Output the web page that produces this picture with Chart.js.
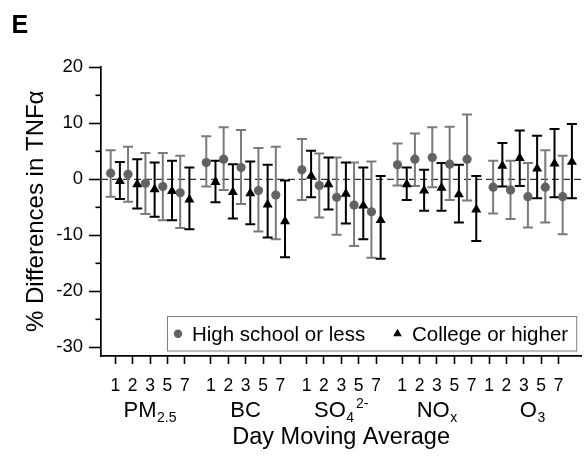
<!DOCTYPE html>
<html>
<head>
<meta charset="utf-8">
<script src="https://cdn.jsdelivr.net/npm/chart.js@4.4.1/dist/chart.umd.min.js"></script>
<style>
  html, body { margin: 0; padding: 0; background: #ffffff; }
  #wrap { width: 587px; height: 459px; }
</style>
</head>
<body>
<div id="wrap"><canvas id="chart" width="587" height="459"></canvas></div>
<script>
// ---- data -------------------------------------------------------------
const lags = ['1', '2', '3', '5', '7'];
const pollutants = ['PM2.5', 'BC', 'SO4', 'NOx', 'O3'];
// label pieces per pollutant: [main text, subscript, superscript]
const pollutantParts = [['PM', '2.5', ''], ['BC', '', ''], ['SO', '4', '2-'], ['NO', 'x', ''], ['O', '3', '']];
const seriesNames = ['High school or less', 'College or higher'];

// % difference in TNFα, 5 lags per pollutant (PM2.5, BC, SO4, NOx, O3)
const hsEst  = [ 1.1,  0.9, -0.7, -1.3, -2.4,   3.0,  3.6,  2.1, -2.0, -2.8,   1.7, -1.1, -3.2, -4.6,  -5.8,   2.6,  3.6,  3.9,  2.7,  3.6,  -1.4, -1.9, -3.1, -1.4, -3.1];
const hsLow  = [-3.1, -4.0, -6.2, -7.3, -8.7,  -1.3, -1.9, -4.4, -9.3, -10.7, -3.7, -6.8, -9.9, -11.9, -14.0, -1.1, -1.2, -1.4, -3.7, -3.8,  -6.1, -7.1, -8.6, -7.7, -9.8];
const hsHigh = [ 5.2,  5.8,  4.7,  4.7,  4.2,   7.7,  9.3,  8.8,  5.6,  5.8,   7.2,  4.6,  3.9,  3.0,   3.2,   6.4,  8.2,  9.3,  9.4, 11.6,   3.3,  3.3,  2.9,  5.2,  4.2];

const coEst  = [-0.3, -0.9, -1.8, -2.1, -3.6,  -0.5, -2.3, -2.5, -4.5,  -7.5,  0.6, -0.9, -2.6, -4.7,  -7.3,  -0.9, -2.0, -1.5, -2.7, -5.4,   2.4,  3.8,  1.9,  2.8,  3.1];
const coLow  = [-3.5, -5.2, -6.7, -7.3, -8.9,  -4.1, -7.0, -8.0, -10.4, -13.9, -3.2, -5.4, -7.9, -10.7, -14.2, -3.7, -5.6, -5.6, -7.7, -11.0, -1.3, -1.2, -3.4, -3.2, -3.4];
const coHigh = [ 3.1,  3.6,  3.0,  3.3,  2.1,   3.3,  2.7,  3.2,  2.6,  -0.2,  5.1,  3.9,  3.0,  2.1,   0.6,   2.1,  1.7,  2.9,  2.6,  0.6,   6.5,  8.7,  7.8,  9.0,  9.9];

const yMajorTicks = [-30, -20, -10, 0, 10, 20];
const yMinorTicks = [-25, -15, -5, 5, 15];

// ---- layout -----------------------------------------------------------
const GROUP_STEP = 5.5;      // slots between first lag of consecutive pollutants
const PAIR_OFFSET = 0.265;   // horizontal shift of each education group around its lag slot
const TICK_SHIFT = [0, 0, 0, 0, -0.5]; // lag tick labels of the last block sit a little to the left

const slot = (g, i) => g * GROUP_STEP + i;
function points(values, shift) {
  return values.map((v, k) => ({ x: slot(Math.floor(k / lags.length), k % lags.length) + shift, y: v }));
}
const xTickValues = [];
pollutants.forEach((p, g) => lags.forEach((l, i) => xTickValues.push(slot(g, i) + TICK_SHIFT[g])));

const FONT = 'Liberation Sans, Arial, Helvetica, sans-serif';
Chart.defaults.font.family = FONT;
Chart.defaults.color = '#000';

// error bars, zero reference line, minor ticks, legend box and block labels
const decor = {
  id: 'decor',
  beforeDatasetsDraw(chart) {
    const { ctx, chartArea: a, scales: { x, y } } = chart;
    ctx.save();
    // dashed zero line
    const y0 = y.getPixelForValue(0);
    ctx.strokeStyle = '#333333';
    ctx.lineWidth = 1.4;
    ctx.setLineDash([7, 4]);
    ctx.beginPath(); ctx.moveTo(a.left, y0); ctx.lineTo(a.right, y0); ctx.stroke();
    ctx.setLineDash([]);
    // error bars
    chart.data.datasets.forEach(ds => {
      ctx.strokeStyle = ds.barColor;
      ctx.lineWidth = 2;
      ds.data.forEach((pt, k) => {
        const px = x.getPixelForValue(pt.x);
        const lo = y.getPixelForValue(ds.lows[k]);
        const hi = y.getPixelForValue(ds.highs[k]);
        ctx.beginPath();
        ctx.moveTo(px, lo); ctx.lineTo(px, hi);
        ctx.moveTo(px - 5, lo); ctx.lineTo(px + 5, lo);
        ctx.moveTo(px - 5, hi); ctx.lineTo(px + 5, hi);
        ctx.stroke();
      });
    });
    ctx.restore();
  },
  afterDraw(chart) {
    const { ctx, chartArea: a, scales: { x, y } } = chart;
    ctx.save();
    // minor y ticks
    ctx.strokeStyle = '#000';
    ctx.lineWidth = 1.6;
    yMinorTicks.forEach(v => {
      const py = y.getPixelForValue(v);
      ctx.beginPath(); ctx.moveTo(a.left - 5.5, py); ctx.lineTo(a.left, py); ctx.stroke();
    });

    // legend
    const bx = 167.5, by = a.bottom - 39.5, bw = a.right - 4.5 - bx, bh = 34.5;
    ctx.fillStyle = '#fff';
    ctx.fillRect(bx, by, bw, bh);
    ctx.strokeStyle = '#808080';
    ctx.lineWidth = 1;
    ctx.strokeRect(bx, by, bw, bh);
    const ly = by + bh / 2;
    ctx.font = '20.5px ' + FONT;
    ctx.textBaseline = 'alphabetic';
    ctx.textAlign = 'left';
    const ds = chart.data.datasets;
    ctx.fillStyle = ds[0].backgroundColor;
    ctx.beginPath(); ctx.arc(bx + 10.5, ly, 4.2, 0, Math.PI * 2); ctx.fill();
    ctx.fillStyle = '#000';
    ctx.fillText(ds[0].label, bx + 24.5, ly + 7.6);
    const tx = 397.5, tr = 5;
    ctx.beginPath();
    ctx.moveTo(tx, ly - tr);
    ctx.lineTo(tx + tr * 0.866, ly + tr / 2);
    ctx.lineTo(tx - tr * 0.866, ly + tr / 2);
    ctx.closePath(); ctx.fill();
    ctx.fillText(ds[1].label, tx + 14.5, ly + 7.6);

    // pollutant block labels: subscript, then superscript following it
    const base = 416.8;
    pollutantParts.forEach((parts, g) => {
      const [main, sub, sup] = parts;
      ctx.font = '22px ' + FONT;
      const wm = ctx.measureText(main).width;
      ctx.font = '14px ' + FONT;
      const ws = sub ? ctx.measureText(sub).width + 0.5 : 0;
      const wp = sup ? ctx.measureText(sup).width + 2 : 0;
      const total = wm + ws + wp;
      const cx = x.getPixelForValue(slot(g, 2));
      const sx = cx - total / 2;
      ctx.fillStyle = '#000';
      ctx.textAlign = 'left';
      ctx.font = '22px ' + FONT;
      ctx.fillText(main, sx, base);
      ctx.font = '14px ' + FONT;
      if (sub) ctx.fillText(sub, sx + wm + 0.5, base + 4.8);
      if (sup) ctx.fillText(sup, sx + wm + ws + 2, base - 8.8);
    });

    // panel letter
    ctx.font = 'bold 25px ' + FONT;
    ctx.fillStyle = '#000';
    ctx.fillText('E', 11.5, 32.8);
    ctx.restore();
  }
};

new Chart(document.getElementById('chart'), {
  type: 'scatter',
  data: {
    datasets: [
      {
        label: seriesNames[0],
        data: points(hsEst, -PAIR_OFFSET),
        lows: hsLow, highs: hsHigh, barColor: '#7a7a7a',
        pointStyle: 'circle', pointRadius: 4.6, pointHoverRadius: 4.6,
        backgroundColor: '#626262', borderWidth: 0
      },
      {
        label: seriesNames[1],
        data: points(coEst, PAIR_OFFSET),
        lows: coLow, highs: coHigh, barColor: '#000000',
        pointStyle: 'triangle', pointRadius: 5.8, pointHoverRadius: 5.8,
        backgroundColor: '#000000', borderWidth: 0
      }
    ]
  },
  options: {
    responsive: false,
    animation: false,
    devicePixelRatio: 1,
    layout: { padding: { top: 66.5, left: 0, right: 0, bottom: 0 } },
    plugins: { legend: { display: false }, tooltip: { enabled: false } },
    events: [],
    scales: {
      x: {
        type: 'linear',
        min: -0.82,
        max: 26.8,
        afterFit(s) { s.height = 103; },
        afterBuildTicks(s) { s.ticks = xTickValues.map(v => ({ value: v })); },
        ticks: {
          autoSkip: false, maxRotation: 0, padding: 11.5,
          font: { size: 17.5 }, color: '#000',
          callback: (v, i) => lags[i % lags.length]
        },
        grid: { drawOnChartArea: false, drawTicks: true, tickLength: 8, tickColor: '#000', tickWidth: 1.6 },
        border: { display: true, color: '#000', width: 1.7 },
        title: {
          display: true, text: 'Day Moving Average',
          font: { size: 23.5 }, color: '#000',
          padding: { top: 0, bottom: 7.8 }
        }
      },
      y: {
        type: 'linear',
        min: -31.55,
        max: 20.15,
        afterFit(s) { s.width = 101; },
        afterBuildTicks(s) { s.ticks = yMajorTicks.map(v => ({ value: v })); },
        ticks: { autoSkip: false, padding: 6, font: { size: 18.5 }, color: '#000' },
        grid: { drawOnChartArea: false, drawTicks: true, tickLength: 12, tickColor: '#000', tickWidth: 1.6 },
        border: { display: true, color: '#000', width: 1.7 },
        title: {
          display: true, text: '% Differences in TNFα',
          font: { size: 24 }, color: '#000',
          padding: { top: 21.5, bottom: 0 }
        }
      }
    }
  },
  plugins: [decor]
});
</script>
</body>
</html>
